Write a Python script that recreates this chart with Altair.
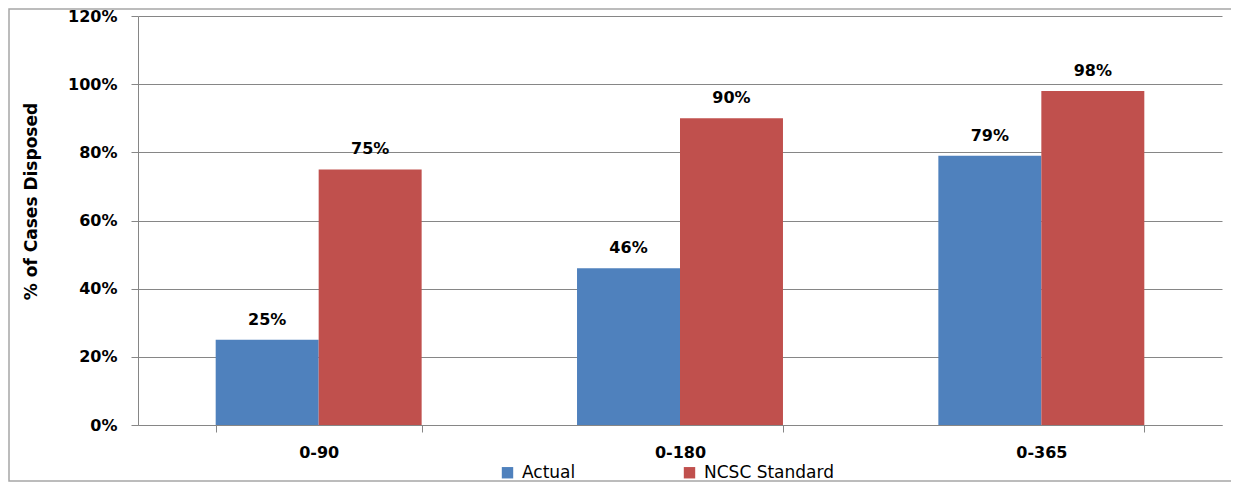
import altair as alt
import pandas as pd

categories = ["0-90", "0-180", "0-365"]
series = ["Actual", "NCSC Standard"]
actual = [0.25, 0.46, 0.79]
standard = [0.75, 0.90, 0.98]
colors = ["#4F81BD", "#C0504D"]

rows = []
for c, a, s in zip(categories, actual, standard):
    rows.append({"cat": c, "series": "Actual", "value": a})
    rows.append({"cat": c, "series": "NCSC Standard", "value": s})
df = pd.DataFrame(rows)

W, H = 1084, 409
FONT = "DejaVu Sans"

x = alt.X("cat:N", sort=categories, title=None,
          scale=alt.Scale(paddingInner=0.43, paddingOuter=0.215),
          axis=alt.Axis(labelAngle=0, labelFont=FONT, labelFontSize=16, labelFontWeight="bold",
                        labelColor="#000", labelPadding=12, tickBand="extent", tickSize=7,
                        tickColor="#868686", domainColor="#868686", grid=False))
y = alt.Y("value:Q", title="% of Cases Disposed",
          scale=alt.Scale(domain=[0, 1.2], nice=False),
          axis=alt.Axis(values=[0, 0.2, 0.4, 0.6, 0.8, 1.0, 1.2], format=".0%",
                        labelFont=FONT, labelFontSize=16, labelFontWeight="bold", labelColor="#000",
                        labelPadding=14, tickSize=7, tickColor="#868686", domainColor="#868686",
                        gridColor="#868686", gridWidth=1,
                        titleFont=FONT, titleFontSize=17, titleFontWeight="bold", titleColor="#000",
                        titlePadding=27, titleY=185))

base = alt.Chart(df)

bars = base.mark_bar().encode(
    x=x, y=y,
    xOffset=alt.XOffset("series:N", sort=series, scale=alt.Scale(paddingInner=0, paddingOuter=0)),
    color=alt.Color("series:N", sort=series, scale=alt.Scale(domain=series, range=colors),
                    legend=alt.Legend(title=None, orient="none", legendX=361, legendY=448,
                                      direction="horizontal", symbolType="square", symbolSize=130,
                                      symbolStrokeWidth=0, labelFont=FONT, labelFontSize=17,
                                      labelColor="#000", columnPadding=105, labelOffset=6)),
)

labels = base.mark_text(baseline="bottom", dy=-12, font=FONT, fontSize=16, fontWeight="bold",
                        color="#000").encode(
    x=alt.X("cat:N", sort=categories),
    xOffset=alt.XOffset("series:N", sort=series),
    y="value:Q",
    text=alt.Text("value:Q", format=".0%"),
)

border = alt.Chart(pd.DataFrame({"a": [0]})).mark_rect(
    fill=None, stroke="#A6A6A6", strokeWidth=1.5, clip=False).encode(
    x=alt.value(-129), x2=alt.value(W + 16), y=alt.value(-7), y2=alt.value(H + 56))

chart = alt.layer(border, bars, labels).properties(
    width=W, height=H,
    padding={"left": 130, "top": 8, "right": 9, "bottom": 59},
    autosize=alt.AutoSizeParams(type="none"),
).configure_view(stroke=None)

chart.save("out.html", embed_options={"renderer": "svg", "actions": False})
